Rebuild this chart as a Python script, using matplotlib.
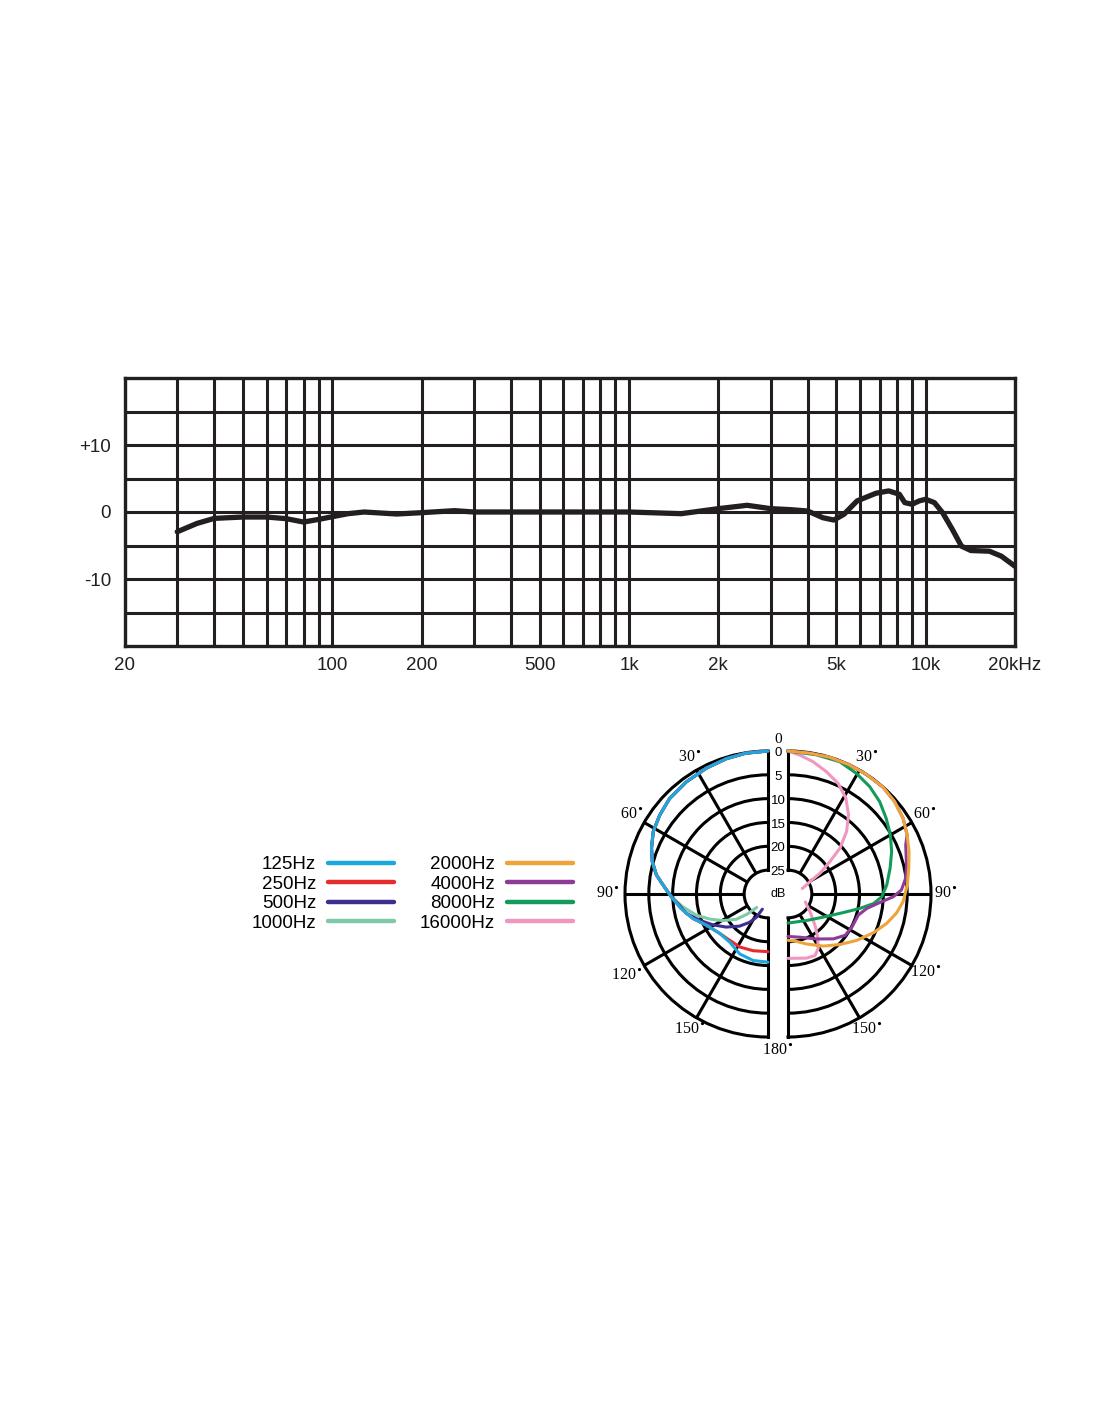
import numpy as np
import matplotlib
matplotlib.use('Agg')
import matplotlib.pyplot as plt
import matplotlib.transforms as mtransforms
from matplotlib.lines import Line2D

# ---------------- data ----------------
freq_hz = [30, 35, 40, 50, 60, 70, 80, 90, 100, 113, 128, 165, 200, 258, 300, 500,
           1000, 1500, 2000, 2500, 3000, 3500, 4000, 4500, 4900, 5300, 5870, 6800,
           7500, 8150, 8500, 9000, 9500, 10000, 10700, 11400, 12300, 13200, 14200,
           16400, 18000, 20000]
response_db = [-2.95, -1.7, -0.95, -0.75, -0.75, -1.0, -1.5, -1.1, -0.7, -0.25, 0.0,
               -0.3, -0.1, 0.2, 0.0, 0.0, 0.0, -0.25, 0.5, 1.0, 0.5, 0.35, 0.15, -0.85,
               -1.2, -0.35, 1.65, 2.8, 3.15, 2.65, 1.4, 1.15, 1.65, 1.9, 1.4, -0.1, -2.6,
               -5.1, -5.75, -5.85, -6.6, -8.1]

x_tick_values = [20, 100, 200, 500, 1000, 2000, 5000, 10000, 20000]
x_tick_labels = ['20', '100', '200', '500', '1k', '2k', '5k', '10k', '20kHz']
x_grid_values = [30, 40, 50, 60, 70, 80, 90, 300, 400, 600, 700, 800, 900,
                 3000, 4000, 6000, 7000, 8000, 9000]
y_tick_values = [-10, 0, 10]
y_tick_labels = ['-10', '0', '+10']
y_grid_values = [-15, -5, 5, 15]

# polar data: angle (deg) and level (dB)
left_labels = ['125Hz', '250Hz', '500Hz', '1000Hz']
right_labels = ['2000Hz', '4000Hz', '8000Hz', '16000Hz']
left_colors = ['#1ba8e0', '#e52d2e', '#3b2f8f', '#7ccaa7']
right_colors = ['#efa43b', '#8d3b96', '#129b5b', '#ef97c0']

ang_125 = [0, 9, 17, 26, 36, 46, 54, 61.5, 68.6, 74.4, 80.3, 85.1, 91.6, 99.4, 108, 116.8,
           128.9, 141.4, 154.7, 167.5, 180]
lev_125 = [0, -0.1, -0.3, -0.6, -0.9, -1.25, -1.9, -2.6, -3.75, -4.8, -6.25, -7.9, -9.7,
           -11.5, -13.4, -15.5, -16.9, -17.1, -16.1, -15.7, -15.7]
ang_250 = [0, 9, 17, 26, 36, 46, 54, 61.5, 68.6, 74.4, 80.3, 85.1, 91.6, 99.4, 108, 116.8,
           128.9, 140.4, 152, 165.3, 180]
lev_250 = [0, -0.1, -0.3, -0.6, -0.9, -1.25, -1.9, -2.6, -3.75, -4.8, -6.25, -7.9, -9.7,
           -11.5, -13.4, -15.5, -16.9, -17.4, -17.4, -17.7, -17.9]
ang_500 = [0, 9, 17, 26, 36, 46, 54, 61.5, 68.6, 74.4, 80.3, 85.1, 91.6, 97, 103.4, 110.9,
           119, 128.3, 138.5, 146.9, 153.4, 159.6]
lev_500 = [0, -0.1, -0.3, -0.6, -0.9, -1.25, -1.9, -2.6, -3.75, -4.8, -6.25, -7.9, -9.7,
           -11.2, -12.4, -14.6, -16.7, -18.8, -21.0, -22.9, -24.5, -26.6]
ang_1000 = [0, 9, 17, 26, 36, 46, 54, 61.5, 68.6, 74.4, 80.3, 85.1, 91.6, 98.5, 106.4, 113.3,
            120.5, 128.6, 134, 140]
lev_1000 = [0, -0.1, -0.3, -0.6, -0.9, -1.25, -1.9, -2.6, -3.75, -4.8, -6.25, -7.9, -9.7,
            -11.9, -14.3, -16.7, -19.0, -21.5, -23.9, -26.3]

ang_2000 = [0, 8.8, 16.9, 25.3, 33, 41.5, 49.1, 56.7, 63.6, 70.7, 78, 85.7, 93.8, 100,
            106.6, 114.3, 124, 134.2, 145.9, 159.6, 170, 180]
lev_2000 = [0, -0.1, 0, 0, 0, 0, -0.4, -1.1, -2.1, -3.1, -4.1, -4.9, -5.8, -6.9, -8.4,
            -10.3, -12.6, -14.8, -16.8, -18.8, -19.9, -20.3]
ang_4000 = [0, 8.8, 16.9, 25.3, 33, 41.5, 49.1, 56.7, 63.6, 67.4, 76.2, 82.4, 88, 91.5,
            95.2, 100.4, 106.7, 117.3, 125.9, 134.6, 147.4, 164.7, 180]
lev_4000 = [0, -0.1, 0, 0, 0, 0, -0.4, -1.1, -2.1, -3.25, -4.4, -5.1, -6.2, -7.9, -10.6,
            -13.2, -14.6, -14.9, -15.2, -16.6, -18.8, -20.6, -21.1]
ang_8000 = [0, 11.5, 21.3, 29.5, 37.3, 44.8, 52.4, 60, 67.7, 75.8, 84.8, 91.6, 96.3, 101.3,
            108.4, 122.9, 144.8, 180]
lev_8000 = [0, -0.2, -0.2, -0.9, -1.7, -2.7, -4.0, -5.2, -6.5, -7.9, -9.2, -10.3, -11.9,
            -14.6, -17.7, -21.1, -23.2, -23.9]
ang_16000 = [0, 4.8, 10.7, 17.4, 24.3, 31.1, 37.4, 43.1, 48.5, 52.2, 56.9, 60.4, 69.4, 90,
             114.7, 129.2, 139.3, 145.5, 151.1, 156.4, 164, 180]
lev_16000 = [0, -0.75, -1.75, -3.1, -4.5, -6.5, -9.1, -12.0, -15.4, -18.8, -21.9, -24.6,
             -26.8, np.nan, -26.0, -24.0, -21.3, -19.0, -16.9, -15.9, -16.0, -16.5]

left_series = [(ang_125, lev_125), (ang_250, lev_250), (ang_500, lev_500), (ang_1000, lev_1000)]
right_series = [(ang_2000, lev_2000), (ang_4000, lev_4000), (ang_8000, lev_8000), (ang_16000, lev_16000)]

polar_angle_ticks = [30, 60, 90, 120, 150]
polar_ring_values = [0, -5, -10, -15, -20, -25]
polar_ring_labels = ['0', '5', '10', '15', '20', '25']

# ---------------- figure ----------------
W, H = 1100, 1422
plt.rcParams['font.family'] = ['Liberation Sans', 'DejaVu Sans']
fig = plt.figure(figsize=(W / 100, H / 100), dpi=100)
fig.patch.set_facecolor('white')


def fx(px):
    return px / W


def fy(py):
    return 1 - py / H


# ---- frequency response ----
ax = fig.add_axes([fx(125), fy(646), fx(1015) - fx(125), fy(378) - fy(646)])
ax.set_xscale('log')
ax.set_xlim(20, 20000)
ax.set_ylim(-20, 20)
ax.set_xticks(x_tick_values)
ax.set_xticklabels(x_tick_labels)
ax.set_xticks(x_grid_values, minor=True)
ax.xaxis.set_minor_formatter(matplotlib.ticker.NullFormatter())
ax.set_yticks(y_tick_values)
ax.set_yticklabels(y_tick_labels)
ax.set_yticks(y_grid_values, minor=True)
ax.tick_params(which='both', length=0, labelsize=13.5, colors='#231f20')
ax.tick_params(axis='x', pad=8)
ax.tick_params(axis='y', pad=10)
ax.grid(which='both', color='#231f20', linewidth=2.2)
ax.set_axisbelow(True)
for s in ax.spines.values():
    s.set_linewidth(2.4)
    s.set_color('#231f20')
ax.plot(freq_hz, response_db, color='#231f20', linewidth=3.8,
        solid_joinstyle='round', solid_capstyle='round', zorder=3)

# ---- polar halves ----
R = 143.0
cy = 894
cxL, cxR = 768, 788
axL = fig.add_axes([fx(cxL - 1.5 * R), fy(cy + R), 2 * R / W, 2 * R / H], projection='polar')
axR = fig.add_axes([fx(cxR - 0.5 * R), fy(cy + R), 2 * R / W, 2 * R / H], projection='polar')

label_radius = {axL: {30: 3.0, 60: 3.0, 90: 3.6, 120: 4.3, 150: 3.0},
                axR: {30: 3.0, 60: 3.0, 90: 3.0, 120: 3.3, 150: 3.0}}

for pax, direction, series, colors in ((axL, 1, left_series, left_colors),
                                       (axR, -1, right_series, right_colors)):
    pax.set_theta_zero_location('N')
    pax.set_theta_direction(direction)
    pax.set_thetamin(0)
    pax.set_thetamax(180)
    pax.set_ylim(-25, 0)
    pax.set_rorigin(-30)
    pax.set_xticks(np.deg2rad(polar_angle_ticks))
    pax.set_xticklabels([])
    pax.set_yticks([-20, -15, -10, -5])
    pax.set_yticklabels([])
    pax.tick_params(length=0)
    pax.grid(True, color='black', linewidth=2.2)
    for s in pax.spines.values():
        s.set_linewidth(2.2)
        s.set_color('black')
    # draw in reverse so that the first series ends on top
    for (ang, lev), c in reversed(list(zip(series, colors))):
        pax.plot(np.deg2rad(ang), lev, color=c, linewidth=2.2, clip_on=False,
                 zorder=3, solid_capstyle='round', solid_joinstyle='round')
    for a in polar_angle_ticks:
        pax.text(np.deg2rad(a), label_radius[pax][a], f'{a}' + r'$^{\bullet}$',
                 ha='center', va='center', family='Liberation Serif', fontsize=11.5,
                 clip_on=False, zorder=5)

shift = mtransforms.ScaledTranslation(-10 / 100, 0, fig.dpi_scale_trans)
label_shift = mtransforms.ScaledTranslation(-10 / 100, -2 / 100, fig.dpi_scale_trans)
for val, lab in zip(polar_ring_values, polar_ring_labels):
    axR.text(0, val, lab, ha='center', va='center', fontsize=9.5,
             transform=axR.transData + label_shift)
axR.text(0, -30, 'dB', ha='center', va='center', fontsize=9, transform=axR.transData + shift)
axR.text(0, 2.4, '0', ha='center', va='center', fontsize=11, family='Liberation Serif',
         transform=axR.transData + shift)
axR.text(np.pi, 3.0, '180' + r'$^{\bullet}$', ha='center', va='center', fontsize=11.5,
         family='Liberation Serif', transform=axR.transData + shift)

# ---- legend ----
handles = [Line2D([], [], color=c, linewidth=3.2, solid_capstyle='round')
           for c in left_colors + right_colors]
fig.legend(handles, left_labels + right_labels, ncol=2, markerfirst=False, frameon=False,
           loc='center right', bbox_to_anchor=(fx(573), fy(894)), fontsize=13.5,
           handlelength=3.5, handletextpad=0.65, columnspacing=1.39, labelspacing=0.13,
           borderpad=0, borderaxespad=0)

fig.savefig('out.png', dpi=100, facecolor='white')
